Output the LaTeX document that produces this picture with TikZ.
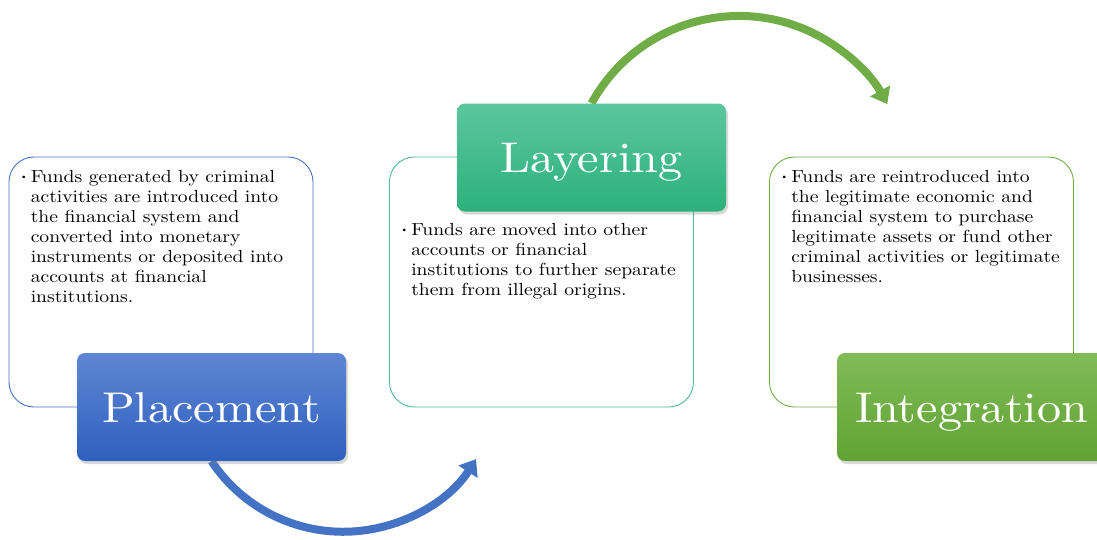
\documentclass[tikz,border=0pt]{standalone}
\usepackage{fontspec}
\setmainfont{lmroman10-regular.otf}[FakeStretch=1.12]
\usetikzlibrary{arrows.meta,shadows,backgrounds}
\definecolor{placeblue}{RGB}{68,114,196}
\definecolor{placetop}{RGB}{94,134,212}
\definecolor{placebottom}{RGB}{47,96,190}
\definecolor{layerteal}{RGB}{76,187,145}
\definecolor{layertop}{RGB}{92,198,158}
\definecolor{layerbottom}{RGB}{44,177,124}
\definecolor{integgreen}{RGB}{112,173,71}
\definecolor{integtop}{RGB}{128,187,88}
\definecolor{integbottom}{RGB}{98,163,52}
\newcommand{\stagebullet}{\llap{\raisebox{3pt}{\fontsize{9}{9}\selectfont\textbullet}\hspace{3pt}}}

\begin{document}
\begin{tikzpicture}[x=1pt, y=1pt]
    \useasboundingbox (0, 0) rectangle (1097, -539);
    \tikzset{StageBox/.style={rectangle, rounded corners=25pt, draw, line width=0.9pt, minimum width=304pt, minimum height=250pt}}
    \tikzset{StageText/.style={anchor=north west, inner sep=0pt, align=left, font=\fontsize{17.5}{20}\selectfont}}
    \tikzset{StageLabel/.style={rectangle, rounded corners=8pt, minimum width=269pt, minimum height=108pt, text=white, font=\fontsize{43}{43}\selectfont, text height=30pt, text depth=0pt, drop shadow={shadow xshift=2pt, shadow yshift=-3pt, opacity=0.3}}}
    \tikzset{StageArrow/.style={-{Triangle[width=22pt, length=15pt]}, line width=8pt}}
    \node[StageBox, draw=placeblue] (place-box) at (161, -282) {}; % placement
    \node[StageBox, draw=layerteal] (layer-box) at (541.5, -282) {}; % layering
    \node[StageBox, draw=integgreen] (integ-box) at (921.5, -282) {}; % integration

    \node[StageText] (place-text) at ([shift={(22, -13.5)}]place-box.north west) {\stagebullet Funds generated by criminal\\ activities are introduced into\\ the financial system and\\ converted into monetary\\ instruments or deposited into\\ accounts at financial\\ institutions.};
    \node[StageText] (layer-text) at ([shift={(22, -66.5)}]layer-box.north west) {\stagebullet Funds are moved into other\\ accounts or financial\\ institutions to further separate\\ them from illegal origins.};
    \node[StageText] (integ-text) at ([shift={(22, -13.5)}]integ-box.north west) {\stagebullet Funds are reintroduced into\\ the legitimate economic and\\ financial system to purchase\\ legitimate assets or fund other\\ criminal activities or legitimate\\ businesses.};

    \node[StageLabel, top color=placetop, bottom color=placebottom] (place-label) at (211.5, -407) {Placement};
    \node[StageLabel, top color=layertop, bottom color=layerbottom] (layer-label) at (591.5, -157.5) {Layering};
    \node[StageLabel, top color=integtop, bottom color=integbottom] (integ-label) at (971.5, -407) {Integration};

    \begin{scope}[on background layer]
        \draw[StageArrow, draw=placeblue] (place-label.south) arc[start angle=213.6, end angle=327.3, radius=158] coordinate (layer-in);
        \draw[StageArrow, draw=integgreen] (layer-label.north) arc[start angle=151.2, end angle=28.5, radius=168.5] coordinate (integ-in);
    \end{scope}
\end{tikzpicture}
\end{document}
